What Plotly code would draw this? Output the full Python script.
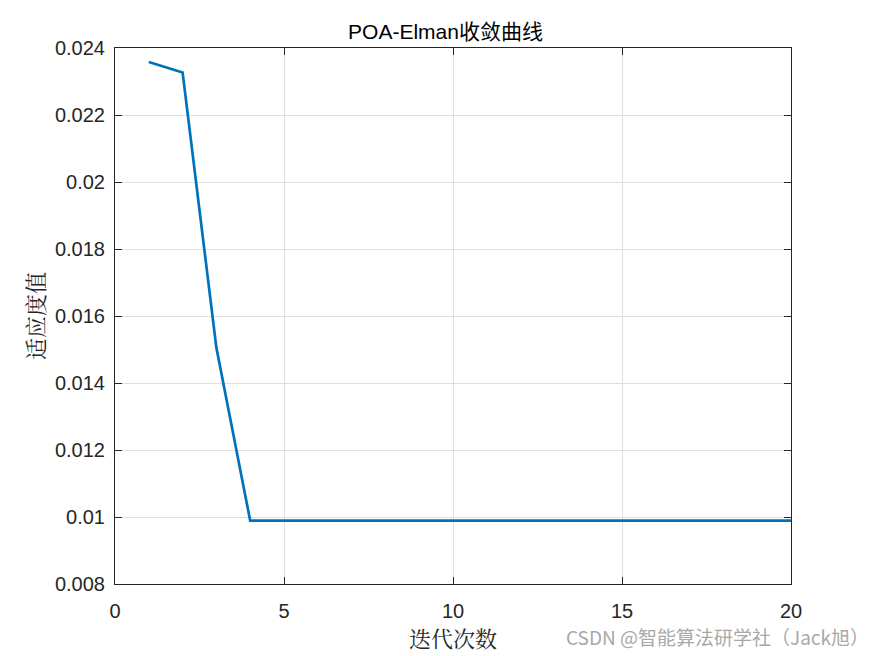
import plotly.graph_objects as go

iterations = list(range(1, 21))
fitness = [0.02358, 0.02327, 0.01505, 0.00989] + [0.00989] * 16
x_ticks = [0, 5, 10, 15, 20]
y_ticks = [0.008, 0.010, 0.012, 0.014, 0.016, 0.018, 0.020, 0.022, 0.024]
y_tick_text = ["0.008", "0.01", "0.012", "0.014", "0.016", "0.018", "0.02", "0.022", "0.024"]

fig = go.Figure()
fig.add_trace(go.Scatter(x=iterations, y=fitness, mode="lines",
                         line=dict(color="#0072BD", width=2.7), showlegend=False))

axis_common = dict(showline=True, linecolor="#262626", linewidth=1, mirror="ticks",
                   ticks="inside", ticklen=7, tickcolor="#262626",
                   showgrid=True, gridcolor="#DFDFDF", gridwidth=1, zeroline=False,
                   tickfont=dict(family="Arial, Liberation Sans, sans-serif", size=20, color="#262626"))

fig.update_layout(
    width=875, height=656,
    paper_bgcolor="white", plot_bgcolor="white",
    margin=dict(l=107, r=92, t=40, b=80, autoexpand=False),
    title=dict(text="POA-Elman收敛曲线", x=0.5, xanchor="center", y=1 - 24/656, yanchor="middle",
               font=dict(family="Arial, Noto Sans CJK SC, sans-serif", size=21, color="#000000")),
    xaxis=dict(range=[0, 20], tickvals=x_ticks, ticklabelstandoff=9, **axis_common,
               title=dict(text="迭代次数", standoff=4,
                          font=dict(family="Noto Serif CJK SC, Noto Sans CJK SC, serif", size=22, color="#262626"))),
    yaxis=dict(range=[0.008, 0.024], tickvals=y_ticks, ticktext=y_tick_text, ticklabelstandoff=5, **axis_common,
               title=dict(text="适应度值", standoff=4,
                          font=dict(family="Noto Serif CJK SC, Noto Sans CJK SC, serif", size=22, color="#262626"))),
)

fig.add_annotation(text="CSDN @智能算法研学社（Jack旭）", xref="paper", yref="paper",
                   x=(871 - 115) / 676, y=-52 / 536, xanchor="right", yanchor="middle", showarrow=False,
                   font=dict(family="Noto Sans CJK SC, sans-serif", size=19, color="#A8A8A8"))

fig.write_html("out.html")
